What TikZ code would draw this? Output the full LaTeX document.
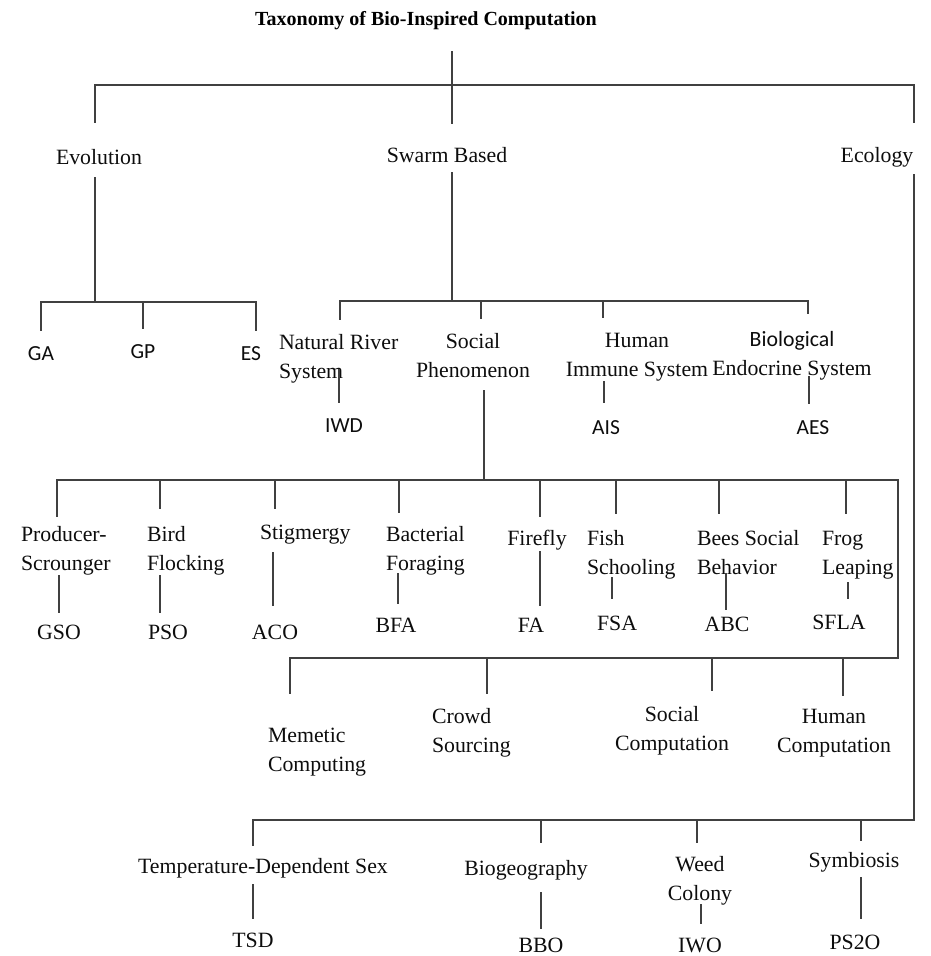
\documentclass[tikz,border=0pt]{standalone}
\usepackage{fontspec}
\setmainfont{Liberation Serif}
\newfontfamily\calibrilike{Carlito}
\begin{document}
\begin{tikzpicture}[x=1pt,y=-1pt,
  every node/.style={inner sep=0pt, outer sep=0pt},
  lbl/.style={font=\fontsize{21.8}{29}\selectfont, text=black!95, anchor=base},
  lblL/.style={lbl, align=left, anchor=base west},
  lblC/.style={lbl, align=center},
  abbr/.style={font=\calibrilike\fontsize{21.5}{29}\selectfont, text=black!95, anchor=base},
  heading/.style={font=\bfseries\fontsize{20}{24}\selectfont, text=black, anchor=base},
  link/.style={draw=black!75, line width=1.8pt, line cap=rect}]
\useasboundingbox (0,0) rectangle (930,956);

% ---- title ----
\node[heading] (title) at (426,25) {Taxonomy of Bio-Inspired Computation};

% ---- first level ----
\node[lbl] (evo)   at (99,164)  {Evolution};
\node[lbl] (swarm) at (447,162) {Swarm Based};
\node[lbl] (eco)   at (877,162) {Ecology};

% ---- evolution branch ----
\node[abbr] (ga) at (41,360)  {GA};
\node[abbr] (gp) at (143,358) {GP};
\node[abbr] (es) at (251,360) {ES};

% ---- swarm branch (multi-line nodes are placed by their last baseline) ----
\node[lblL] (river)  at (279,378) {Natural River\\System};
\node[lblC] (social) at (473,377) {Social\\Phenomenon};
\node[lblC] (immune) at (637,376) {Human\\Immune System};
\node[lblC] (endo)   at (792,375) {{\calibrilike Biological}\\Endocrine System};
\node[abbr] (iwd) at (344,432) {IWD};
\node[abbr] (ais) at (606,434) {AIS};
\node[abbr] (aes) at (813,434) {AES};

% ---- social phenomenon branch ----
\node[lblL] (prod)   at (21,570)  {Producer-\\Scrounger};
\node[lblL] (bird)   at (147,570) {Bird\\Flocking};
\node[lblL] (stig)   at (260,539) {Stigmergy};
\node[lblL] (bact)   at (386,570) {Bacterial\\Foraging};
\node[lbl]  (firefly) at (537,545) {Firefly};
\node[lblL] (fish)   at (587,574) {Fish\\Schooling};
\node[lblL] (bees)   at (697,574) {Bees Social\\Behavior};
\node[lblL] (frog)   at (822,574) {Frog\\Leaping};

\node[lbl] (gso)  at (59,639)  {GSO};
\node[lbl] (pso)  at (168,639) {PSO};
\node[lbl] (aco)  at (275,639) {ACO};
\node[lbl] (bfa)  at (396,632) {BFA};
\node[lbl] (fa)   at (531,632) {FA};
\node[lbl] (fsa)  at (617,630) {FSA};
\node[lbl] (abc)  at (727,631) {ABC};
\node[lbl] (sfla) at (839,629) {SFLA};

\node[lblL] (memetic) at (268,771) {Memetic\\Computing};
\node[lblL] (crowd)   at (432,752) {Crowd\\Sourcing};
\node[lblC] (socomp)  at (672,750) {Social\\Computation};
\node[lblC] (hucomp)  at (834,752) {Human\\Computation};

% ---- ecology branch ----
\node[lbl]  (tds)    at (263,873) {Temperature-Dependent Sex};
\node[lbl]  (biogeo) at (526,875) {Biogeography};
\node[lblC] (weed)   at (700,900) {Weed\\Colony};
\node[lbl]  (symb)   at (854,867) {Symbiosis};
\node[lbl] (tsd)  at (253,947) {TSD};
\node[lbl] (bbo)  at (541,952) {BBO};
\node[lbl] (iwo)  at (700,952) {IWO};
\node[lbl] (pso2) at (855,949) {PS2O};

% ---- bus junctions ----
\coordinate (rootBus) at (452,85);
\coordinate (evoBus)  at (95,302);
\coordinate (swBus)   at (452,301);
\coordinate (spBus)   at (484,480);
\coordinate (spBus2)  at (898,658);
\coordinate (ecoBus)  at (914,820);

% ---- connectors ----
\draw[link] (452,52) -- (452,123);
\draw[link] (95,122) |- (rootBus) -| (914,122);

\draw[link] (95,178) -- (evoBus);
\draw[link] (41,330) |- (evoBus) -| (256,330);
\draw[link] (143,302) -- (143,328);

\draw[link] (452,173) -- (swBus);
\draw[link] (340,319) |- (swBus) -| (808,313);
\draw[link] (481,301) -- (481,318);
\draw[link] (603,301) -- (603,317);
\draw[link] (339,370) -- (339,402);
\draw[link] (604,382) -- (604,402);
\draw[link] (809,377) -- (809,403);

\draw[link] (484,391) -- (spBus);
\draw[link] (57,516) |- (spBus) -| (spBus2) -| (290,693);
\foreach \x/\y in {160/508, 275/508, 399/512, 540/516, 616/513, 719/513, 846/513}
  \draw[link] (\x,480) -- (\x,\y);
\draw[link] (59,576) -- (59,612);
\draw[link] (160,576) -- (160,612);
\draw[link] (273,553) -- (273,605);
\draw[link] (398,574) -- (398,603);
\draw[link] (540,552) -- (540,605);
\draw[link] (612,578) -- (612,598);
\draw[link] (726,574) -- (726,609);
\draw[link] (848,583) -- (848,598);
\foreach \x/\y in {487/693, 712/690, 843/695}
  \draw[link] (\x,658) -- (\x,\y);

\draw[link] (914,175) -- (ecoBus) -| (253,845);
\foreach \x/\y in {541/842, 697/842, 861/840}
  \draw[link] (\x,820) -- (\x,\y);
\draw[link] (253,885) -- (253,918);
\draw[link] (541,893) -- (541,928);
\draw[link] (701,905) -- (701,923);
\draw[link] (861,878) -- (861,918);
\end{tikzpicture}
\end{document}
